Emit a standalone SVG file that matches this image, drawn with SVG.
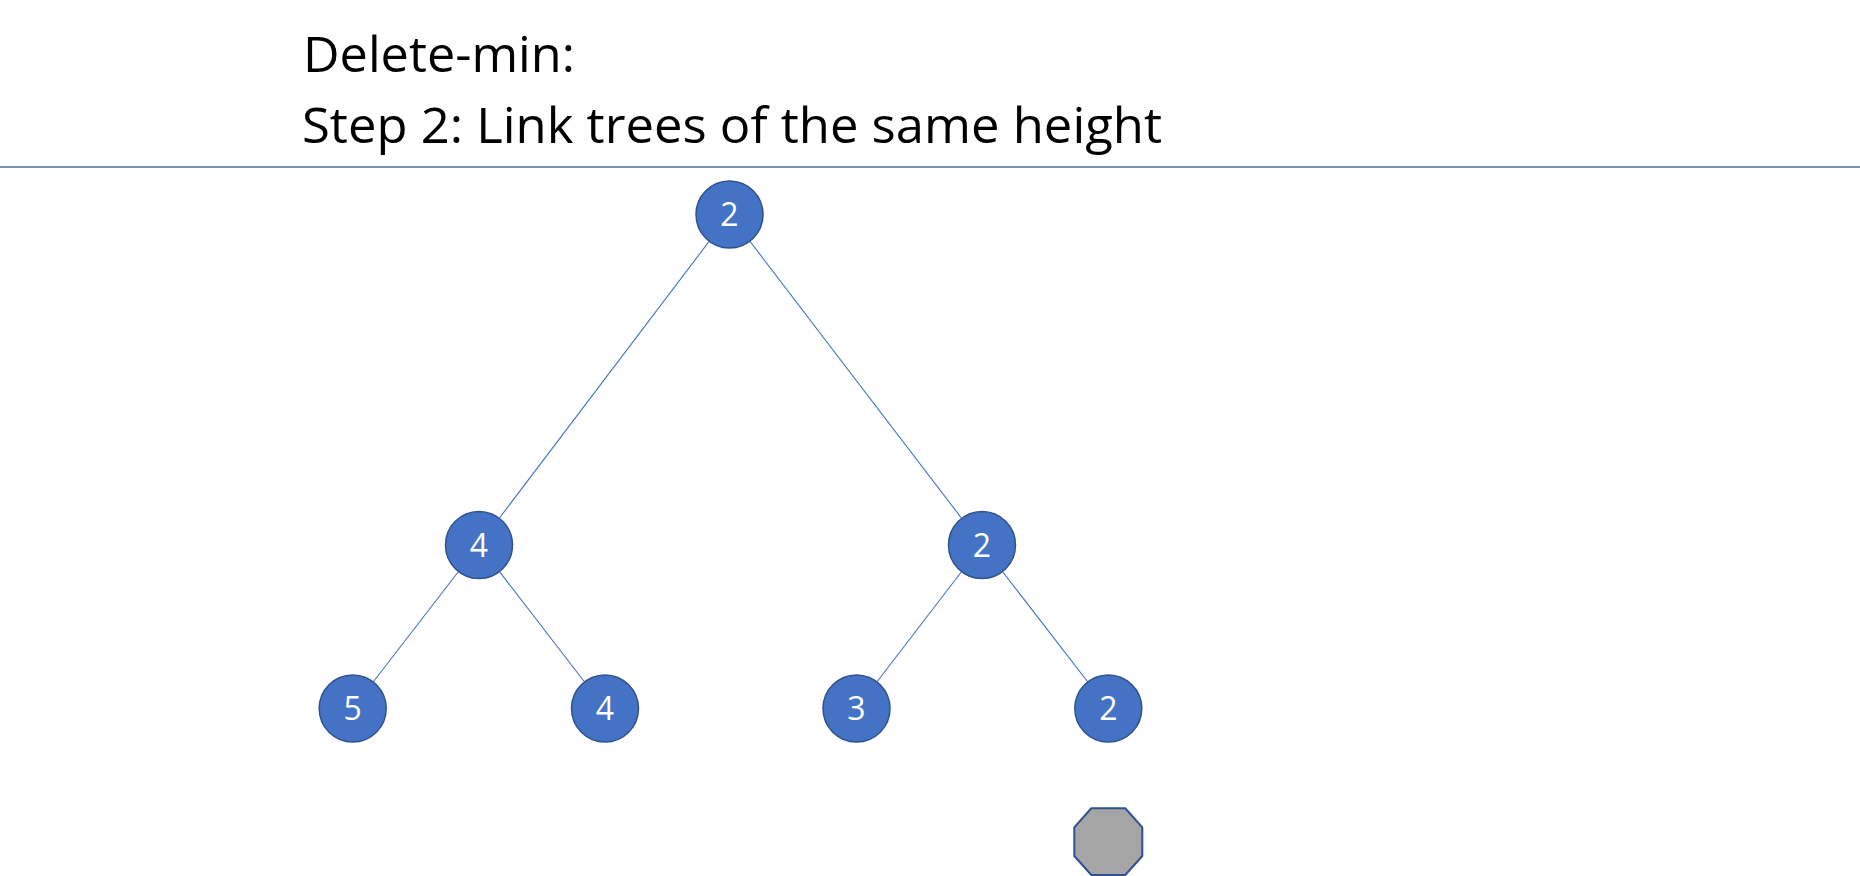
<svg xmlns="http://www.w3.org/2000/svg" width="1860" height="876" viewBox="0 0 1860 876">
<style>
.title{font-family:"Open Sans","Liberation Sans",sans-serif;font-size:50px;fill:#000}
.node circle{fill:#4472C4;stroke:#2F528F;stroke-width:1.5}
.node text{font-family:"Open Sans","Liberation Sans",sans-serif;font-size:32px;fill:#fff;text-anchor:middle}
.edge{stroke:#4472C4;stroke-width:1.1;fill:none}
</style>
<rect width="1860" height="876" fill="#fff"/>
<g id="title">
<text class="title" x="303" y="72" textLength="272" lengthAdjust="spacingAndGlyphs">Delete-min:</text>
<text class="title" x="302" y="143" textLength="860" lengthAdjust="spacingAndGlyphs">Step 2: Link trees of the same height</text>
</g>
<line x1="0" y1="167" x2="1860" y2="167" stroke="#4A6F95" stroke-width="1.3"/>
<g id="connectors">
<line class="edge" x1="729.5" y1="214.5" x2="479" y2="545"/>
<line class="edge" x1="729.5" y1="214.5" x2="982" y2="545"/>
<line class="edge" x1="479" y1="545" x2="352.7" y2="708.5"/>
<line class="edge" x1="479" y1="545" x2="605" y2="708.5"/>
<line class="edge" x1="982" y1="545" x2="856.5" y2="708.5"/>
<line class="edge" x1="982" y1="545" x2="1108.3" y2="708.5"/>
</g>
<g id="n_root" class="node"><circle cx="729.5" cy="214.5" r="33.5"/><text x="729.5" y="226">2</text></g>
<g id="n_l4" class="node"><circle cx="479" cy="545" r="33.5"/><text x="479" y="556.5">4</text></g>
<g id="n_r2" class="node"><circle cx="982" cy="545" r="33.5"/><text x="982" y="556.5">2</text></g>
<g id="n_5" class="node"><circle cx="352.7" cy="708.5" r="33.5"/><text x="352.7" y="720">5</text></g>
<g id="n_4" class="node"><circle cx="605" cy="708.5" r="33.5"/><text x="605" y="720">4</text></g>
<g id="n_3" class="node"><circle cx="856.5" cy="708.5" r="33.5"/><text x="856.5" y="720">3</text></g>
<g id="n_2" class="node"><circle cx="1108.3" cy="708.5" r="33.5"/><text x="1108.3" y="720">2</text></g>
<g id="octagon">
<polygon points="1091.3,808.3 1125.3,808.3 1142.3,827.3 1142.3,856 1125.3,875 1091.3,875 1074.3,856 1074.3,827.3" fill="#A5A5A5" stroke="#2F528F" stroke-width="2"/>
</g>
</svg>
